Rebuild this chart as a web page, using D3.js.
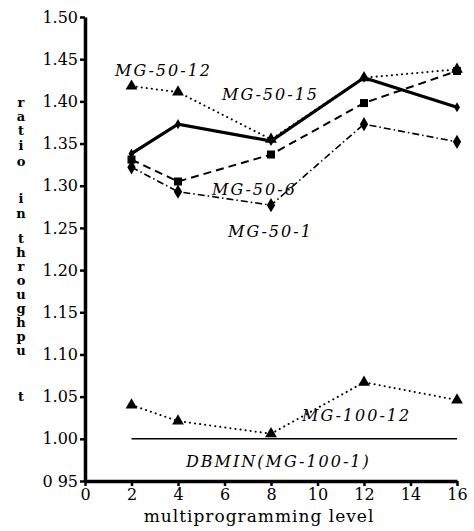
<!DOCTYPE html>
<html>
<head>
<meta charset="utf-8">
<script src="https://cdn.jsdelivr.net/npm/d3@7"></script>
<style>
  body { margin: 0; background: #fff; }
  svg { display: block; }
  text { font-family: "DejaVu Serif", "Liberation Serif", serif; fill: #000; }
</style>
</head>
<body>
<svg width="474" height="531"></svg>
<script>
// data
var levels = [2, 4, 8, 12, 16];
var mg5012 = [1.418, 1.411, 1.355, 1.428, 1.438];
var mg5015 = [1.338, 1.373, 1.353, 1.428, 1.393];
var mg506 = [1.331, 1.305, 1.337, 1.398, 1.436];
var mg501 = [1.322, 1.293, 1.277, 1.373, 1.352];
var mg10012 = [1.040, 1.021, 1.006, 1.067, 1.046];
var dbmin = [1, 1, 1, 1, 1];
var xTicks = [0, 2, 4, 6, 8, 10, 12, 14, 16];
var yTicks = [0.95, 1.00, 1.05, 1.10, 1.15, 1.20, 1.25, 1.30, 1.35, 1.40, 1.45, 1.50];
var yTickLabels = ["0 95", "1.00", "1.05", "1.10", "1.15", "1.20", "1.25", "1.30", "1.35", "1.40", "1.45", "1.50"];
var seriesNames = ["MG-50-12", "MG-50-15", "MG-50-6", "MG-50-1", "MG-100-12", "DBMIN(MG-100-1)"];

var svg = d3.select("svg");
var x = d3.scaleLinear().domain([0, 16]).range([85, 457]);
var y = d3.scaleLinear().domain([0.95, 1.5]).range([481, 17]);

// axes
var yAxis = svg.append("g").attr("transform", "translate(85,0)")
    .call(d3.axisLeft(y).tickValues(yTicks).tickSize(5).tickSizeOuter(0)
      .tickFormat(function(d, i) { return yTickLabels[i]; }));
var xAxis = svg.append("g").attr("transform", "translate(0,481)")
    .call(d3.axisBottom(x).tickValues(xTicks).tickSize(5).tickSizeOuter(0));

[yAxis, xAxis].forEach(function(a) {
  a.select(".domain").attr("stroke", "#000").attr("stroke-width", 3.5);
  a.selectAll(".tick line").attr("stroke", "#000").attr("stroke-width", 2.5);
  a.selectAll("text").attr("fill", "#000")
    .style("font-family", "'DejaVu Serif', serif").style("font-size", "16px");
});
yAxis.selectAll("text").attr("x", -7);
xAxis.selectAll("text").attr("y", 8);

svg.append("text").attr("x", 259).attr("y", 522).attr("text-anchor", "middle")
  .style("font-size", "17px").style("letter-spacing", "1px").text("multiprogramming level");

// stacked y label
var letters = "ratio in throughput".split("");
var ly = [102, 116, 130, 145, 161, 0, 198, 213, 0, 238, 252, 266, 280, 294, 308, 322, 336, 350, 396];
letters.forEach(function(c, i) {
  if (c === " ") return;
  svg.append("text").attr("x", 21).attr("y", ly[i] + 5).attr("text-anchor", "middle")
    .style("font-size", "13px").style("font-weight", "bold").text(c);
});

function pts(vals) { return levels.map(function(l, i) { return [l, vals[i]]; }); }
var line = d3.line().x(function(d) { return x(d[0]); }).y(function(d) { return y(d[1]); });

function drawLine(vals, width, dash, cap) {
  svg.append("path").datum(pts(vals)).attr("d", line)
    .attr("fill", "none").attr("stroke", "#000").attr("stroke-width", width)
    .attr("stroke-dasharray", dash).attr("stroke-linecap", cap || "butt");
}
function drawMarks(vals, type, size) {
  svg.selectAll(null).data(pts(vals)).enter().append("path")
    .attr("transform", function(d) { return "translate(" + x(d[0]) + "," + y(d[1]) + ")"; })
    .attr("d", d3.symbol().type(type).size(size))
    .attr("fill", "#000");
}

drawLine(dbmin, 1.5, null);
drawLine(mg5012, 2, "0.1 5", "round");
drawLine(mg10012, 2, "0.1 5", "round");
drawLine(mg506, 2, "8 5");
drawLine(mg501, 1.6, "7 3 1.5 3");
drawLine(mg5015, 3.2, null);

drawMarks(mg5012, d3.symbolTriangle, 60);
drawMarks(mg10012, d3.symbolTriangle, 60);
drawMarks(mg506, d3.symbolSquare, 64);
drawMarks(mg501, d3.symbolDiamond, 60);
drawMarks(mg5015, d3.symbolDiamond, 30);

// curve labels
var labelPos = [[115, 76], [222, 100], [212, 195], [228, 237], [302, 421], [186, 467]];
seriesNames.forEach(function(n, i) {
  svg.append("text").attr("x", labelPos[i][0]).attr("y", labelPos[i][1])
    .style("font-style", "italic").style("font-size", "16px")
    .style("letter-spacing", "2px").text(n);
});
</script>
</body>
</html>
